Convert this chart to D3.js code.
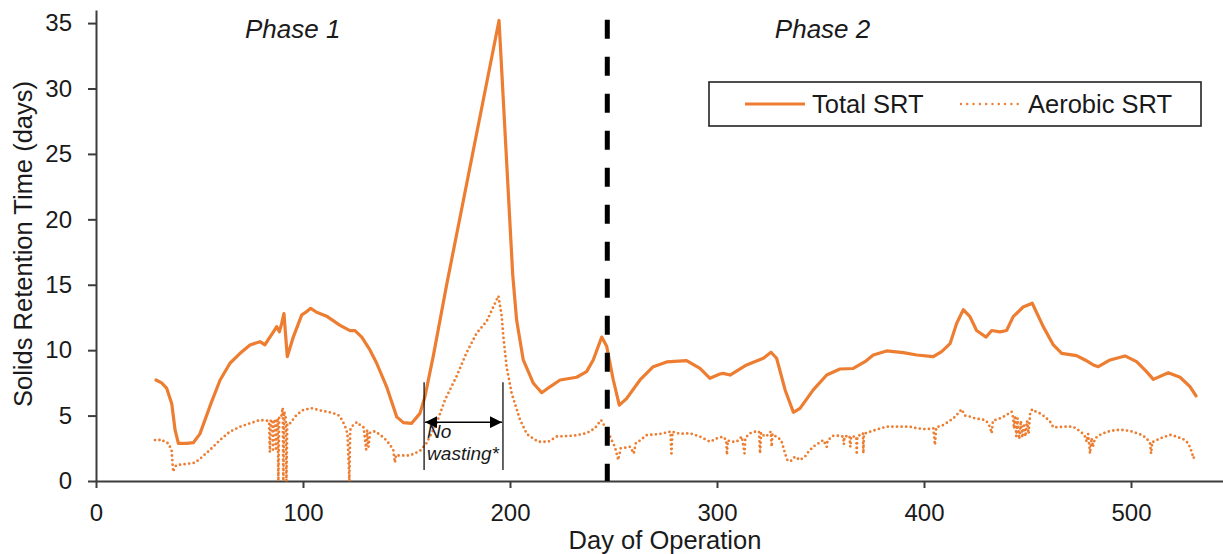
<!DOCTYPE html>
<html>
<head>
<meta charset="utf-8">
<script src="https://cdn.jsdelivr.net/npm/d3@7/dist/d3.min.js"></script>
<style>
  html, body { margin: 0; padding: 0; background: #fff; }
  svg { display: block; font-family: "Liberation Sans", Arial, sans-serif; }
</style>
</head>
<body>
<svg id="chart" width="1223" height="554"></svg>
<script>
// Total SRT (days) by day of operation
const totalSRT = [
  [29,7.72],[31.7,7.5],[34.1,7.1],[36.6,5.9],[38.2,3.9],[39.8,2.88],[43.8,2.88],[47,2.93],
  [50.2,3.6],[55,5.7],[59.9,7.7],[64.7,9.0],[69.6,9.76],[74.4,10.4],[79.2,10.65],[81.6,10.4],
  [83.2,10.8],[85.7,11.4],[87.3,11.8],[88.6,11.4],[89.7,12.05],[90.8,12.8],[92.4,9.5],[95.3,11.0],
  [99.4,12.7],[101.8,12.95],[103.7,13.2],[106.6,12.9],[111.4,12.6],[117.9,11.9],[122.7,11.5],
  [125.1,11.5],[128.4,11.0],[132.4,10.0],[135.6,9.0],[140.4,7.2],[145.3,4.9],[148.5,4.46],
  [152.5,4.41],[156.5,5.17],[158.9,6.44],[163,9.6],[169.4,15.0],[194.7,35.2],[201.3,15.8],[203.2,12.3],
  [206.4,9.25],[211.3,7.47],[215.3,6.75],[219.3,7.2],[224.2,7.72],[232.2,7.93],[237,8.36],
  [240.2,9.25],[244.3,11.0],[246.7,10.3],[249.9,7.72],[252.8,5.8],[256.3,6.3],[262.8,7.72],
  [269.2,8.74],[275.7,9.1],[285.3,9.2],[291.8,8.6],[296.6,7.85],[301.4,8.18],[303,8.23],
  [306.3,8.1],[314.3,8.87],[322.4,9.38],[326.1,9.84],[328.8,9.38],[332.9,6.96],[336.9,5.25],
  [340.1,5.55],[346.5,6.96],[353,8.1],[359.4,8.56],[365.8,8.6],[371.5,9.12],[375.5,9.63],
  [381.9,9.94],[390,9.81],[396.5,9.63],[404.5,9.5],[408.5,9.89],[412.6,10.5],[415.8,12.06],
  [419,13.1],[422.2,12.56],[425.4,11.5],[430,11.0],[432.7,11.5],[436.7,11.4],[439.9,11.5],
  [443.1,12.56],[447.9,13.3],[452.3,13.59],[457.6,11.8],[462.5,10.4],[466.5,9.76],[473.7,9.58],
  [477.8,9.25],[481.8,8.87],[484.2,8.74],[489.9,9.25],[497.1,9.56],[502.7,9.12],[507.5,8.36],
  [510.8,7.77],[518,8.28],[523.7,7.93],[528.5,7.21],[531.4,6.5]
];

// Aerobic SRT (days) by day of operation
const aerobicSRT = [
  [28.5,3.13],[30,3.1],[31.7,3.18],[33,3.0],[34.9,2.88],[36.5,2.37],[37.3,0.7],[37.8,1.0],
  [38.9,1.22],[43.8,1.3],[47.8,1.4],[51,1.8],[55,2.37],[59.9,3.13],[64.7,3.77],[69.6,4.15],
  [74.4,4.41],[79.2,4.66],[82.5,4.61],[83.6,4.55],[84.0,2.2],[84.4,4.6],[85.2,4.7],[85.5,2.4],
  [85.9,4.6],[86.6,4.7],[86.9,2.3],[87.3,4.5],[87.8,4.8],[88.1,0],[88.5,4.9],[89.5,4.9],
  [90.2,5.6],[90.5,0],[90.9,5.3],[91.6,4.9],[92.0,0],[92.4,4.4],[93.7,4.4],[96.9,5.05],
  [100.1,5.43],[104.2,5.56],[109,5.37],[113.9,5.22],[117,5.05],[118.7,4.7],[120.3,4.2],
  [121.5,3.6],[122.4,0],[122.8,3.9],[124.3,4.3],[126.2,4.5],[128,4.2],[129.3,4.1],[130.5,2.4],
  [131,3.9],[131.6,2.6],[132.4,3.7],[134.8,3.8],[137.5,3.5],[140.4,3.1],[143.6,2.4],[144.4,1.4],
  [145,2.0],[146,1.95],[151.7,1.95],[156.5,2.3],[159.7,2.9],[164.5,4.4],[168.6,6.2],[174.2,8.0],
  [179,9.8],[183.9,11.3],[188.7,12.2],[192.8,13.6],[194.4,14.14],[196,12.6],[196.8,11.0],
  [198.4,8.7],[200.8,6.7],[204.8,4.7],[208.1,3.6],[209.7,3.4],[213.7,3.0],[218.5,3.0],
  [222.6,3.4],[230.6,3.46],[237,3.65],[241,4.03],[244,4.66],[245.9,4.15],[248.3,3.4],
  [250.7,2.6],[252.3,1.6],[253.5,2.5],[256,2.55],[258,2.62],[259.8,2.1],[260.8,2.9],[262,3.0],
  [266,3.5],[272.5,3.6],[277.5,3.77],[278,2.1],[278.5,3.77],[282.1,3.6],[286.9,3.65],
  [291.8,3.39],[296.6,3.0],[300,3.26],[303,3.39],[304.5,3.1],[304.8,2.0],[305.2,3.1],[307,3.0],
  [309.5,3.0],[312,3.39],[313.3,2.1],[313.7,3.3],[316,3.65],[318.5,3.77],[320.3,3.77],
  [320.8,2.1],[321.3,3.7],[323,3.39],[324.6,3.52],[326,3.77],[326.4,2.62],[326.8,3.6],
  [328.5,3.39],[331,3.13],[332.9,2.1],[334,1.6],[335.5,1.5],[337.7,1.86],[340,1.6],[342.5,1.86],
  [344,2.2],[346.5,2.62],[349,2.88],[351.4,3.13],[353,2.6],[353.4,3.1],[356.2,3.46],[358.5,3.46],
  [361,3.39],[361.3,2.8],[361.6,3.4],[364,3.46],[364.4,2.6],[364.8,3.4],[367.3,3.39],[367.5,2.0],
  [367.8,3.4],[370.5,3.65],[370.7,2.1],[371,3.6],[373.9,3.77],[376.5,3.9],[379,4.03],[382,4.15],
  [387,4.15],[393.2,4.15],[396.5,4.03],[401.3,3.95],[404.5,4.03],[405.3,2.75],[405.9,4.1],
  [409.3,4.28],[411.8,4.53],[414.2,4.79],[416.5,5.17],[418.2,5.48],[419.8,5.0],[422.2,4.92],
  [424.6,4.79],[427,4.72],[429.5,4.66],[431.1,4.4],[431.9,4.1],[432.7,3.65],[433.3,4.6],
  [436.7,4.79],[439.1,4.97],[442.3,5.3],[443,4.9],[443.5,4.0],[444,5.0],[444.6,3.4],[445.2,4.8],
  [446,3.2],[446.8,4.6],[447.5,3.3],[448.3,4.4],[449,3.4],[449.8,4.6],[450.5,3.6],[451.3,5.2],
  [452.3,5.48],[454,5.3],[456,5.17],[458.5,4.9],[460.9,4.53],[462.5,4.1],[465,4.12],[467.3,4.15],
  [472.1,4.15],[474.5,3.9],[476.2,3.7],[477.8,3.39],[478.6,3.0],[479.3,3.6],[480.2,2.1],[481,3.3],
  [481.6,2.6],[482.6,3.26],[485,3.52],[487.5,3.7],[489.9,3.82],[493.1,3.9],[496.3,3.9],
  [499.6,3.82],[502.8,3.65],[505.2,3.52],[507.6,3.26],[509.2,2.88],[509.7,2.1],[510.3,3.0],
  [510.8,3.0],[514,3.26],[518.9,3.52],[522.1,3.39],[525.3,3.19],[527.7,2.88],[529.3,2.24],
  [530.2,1.73],[531,2.1]
];

const xTicks = [0, 100, 200, 300, 400, 500];
const yTicks = [0, 5, 10, 15, 20, 25, 30, 35];
const seriesNames = ["Total SRT", "Aerobic SRT"];
const phaseLabels = ["Phase 1", "Phase 2"];
const phaseLabelDays = [95, 351];
const phaseBoundaryDay = 247;
const noWastingDays = [158.5, 196.6];

const orange = "#ED7D31";
const ink = "#1a1a1a";
const axisColor = "#3c3c3c";

const svg = d3.select("#chart");
svg.append("rect").attr("width", 1223).attr("height", 554).attr("fill", "#fff");

const x = d3.scaleLinear().domain([0, 550]).range([96, 96 + 550 * 2.07]);
const y = d3.scaleLinear().domain([0, 36]).range([481, 10]);

// Axes
const xAxis = svg.append("g").attr("transform", `translate(0,${y(0)})`)
  .call(d3.axisBottom(x).tickValues(xTicks).tickSize(7).tickSizeOuter(0).tickPadding(16));
const yAxis = svg.append("g").attr("transform", `translate(${x(0)},0)`)
  .call(d3.axisLeft(y).tickValues(yTicks).tickSize(8).tickSizeOuter(0).tickPadding(16));
[xAxis, yAxis].forEach(g => {
  g.selectAll("path.domain").attr("stroke", axisColor).attr("stroke-width", 2);
  g.selectAll(".tick line").attr("stroke", axisColor).attr("stroke-width", 2);
  g.selectAll(".tick text").attr("fill", ink).style("font-size", "24px")
    .style("font-family", "'Liberation Sans', Arial, sans-serif");
});

// Axis titles
svg.append("text").attr("x", 665).attr("y", 549).attr("text-anchor", "middle")
  .attr("fill", ink).style("font-size", "25.5px").text("Day of Operation");
svg.append("text").attr("transform", "translate(32,244) rotate(-90)").attr("text-anchor", "middle")
  .attr("fill", ink).style("font-size", "25.5px").text("Solids Retention Time (days)");

// Series
const line = d3.line().x(d => x(d[0])).y(d => y(d[1]));
svg.append("path").datum(aerobicSRT).attr("d", line)
  .attr("fill", "none").attr("stroke", orange).attr("stroke-width", 2.8)
  .attr("stroke-dasharray", "0 4.6").attr("stroke-linecap", "round").attr("stroke-linejoin", "round");
svg.append("path").datum(totalSRT).attr("d", line)
  .attr("fill", "none").attr("stroke", orange).attr("stroke-width", 3.2)
  .attr("stroke-linejoin", "round").attr("stroke-linecap", "round");

// Phase boundary
svg.append("line")
  .attr("x1", x(phaseBoundaryDay)).attr("x2", x(phaseBoundaryDay))
  .attr("y1", y(35.25)).attr("y2", y(0))
  .attr("stroke", "#000").attr("stroke-width", 5).attr("stroke-dasharray", "19 18");

// Phase labels
svg.selectAll("text.phase").data(phaseLabels).join("text").attr("class", "phase")
  .attr("x", (d, i) => x(phaseLabelDays[i])).attr("y", 38).attr("text-anchor", "middle")
  .attr("fill", ink).style("font-size", "26px").style("font-style", "italic").text(d => d);

// "No wasting" period annotation
const defs = svg.append("defs");
defs.append("marker").attr("id", "head").attr("viewBox", "0 0 12 12")
  .attr("refX", 12).attr("refY", 6).attr("markerWidth", 12).attr("markerHeight", 12)
  .attr("markerUnits", "userSpaceOnUse").attr("orient", "auto-start-reverse")
  .append("path").attr("d", "M0,0 L12,6 L0,12 Z").attr("fill", "#000");
const ann = svg.append("g");
noWastingDays.forEach(d => {
  ann.append("line").attr("x1", x(d)).attr("x2", x(d)).attr("y1", y(7.55)).attr("y2", y(0.85))
    .attr("stroke", "#111").attr("stroke-width", 1.3);
});
ann.append("line")
  .attr("x1", x(noWastingDays[0]) + 1).attr("x2", x(noWastingDays[1]) - 1)
  .attr("y1", y(4.5)).attr("y2", y(4.5))
  .attr("stroke", "#000").attr("stroke-width", 1.5)
  .attr("marker-start", "url(#head)").attr("marker-end", "url(#head)");
ann.append("text").attr("x", x(noWastingDays[0]) + 3).attr("y", 438)
  .attr("fill", ink).style("font-size", "19px").style("font-style", "italic").text("No");
ann.append("text").attr("x", x(noWastingDays[0]) + 3).attr("y", 460)
  .attr("fill", ink).style("font-size", "19px").style("font-style", "italic").text("wasting*");

// Legend
const lg = svg.append("g");
lg.append("rect").attr("x", 709).attr("y", 82).attr("width", 492).attr("height", 44)
  .attr("fill", "#fff").attr("stroke", "#222").attr("stroke-width", 1.6);
lg.append("line").attr("x1", 745).attr("x2", 805).attr("y1", 104).attr("y2", 104)
  .attr("stroke", orange).attr("stroke-width", 3.2);
lg.append("text").attr("x", 812).attr("y", 112.5).attr("fill", ink)
  .style("font-size", "25.5px").text(seriesNames[0]);
lg.append("line").attr("x1", 961).attr("x2", 1021).attr("y1", 104).attr("y2", 104)
  .attr("stroke", orange).attr("stroke-width", 2.4)
  .attr("stroke-dasharray", "0 6.3").attr("stroke-linecap", "round");
lg.append("text").attr("x", 1028).attr("y", 112.5).attr("fill", ink)
  .style("font-size", "25.5px").text(seriesNames[1]);
</script>
</body>
</html>
